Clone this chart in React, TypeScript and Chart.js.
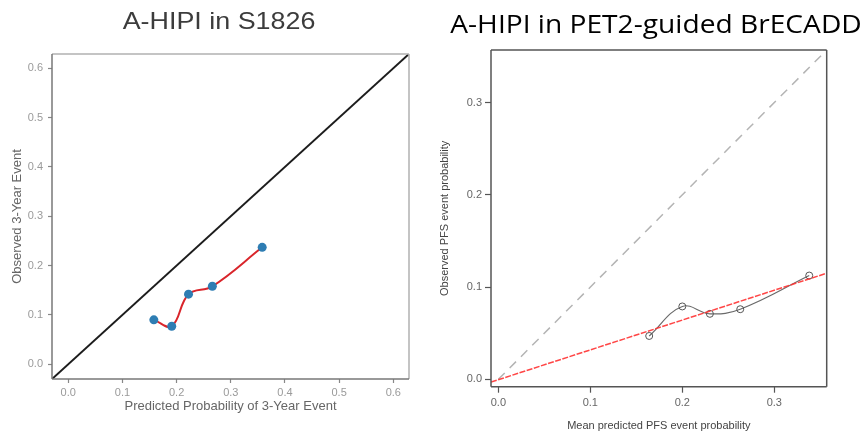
import React, { useEffect, useRef } from "react";
import { Chart, registerables } from "chart.js";
Chart.register(...registerables);

// ---------- Left panel: A-HIPI in S1826 ----------
const LEFT_TITLE = "A-HIPI in S1826";
const LEFT_PRED = [0.158, 0.191, 0.222, 0.266, 0.358];
const LEFT_OBS = [0.09, 0.077, 0.142, 0.158, 0.237];
const LEFT_TICKS = [0, 0.1, 0.2, 0.3, 0.4, 0.5, 0.6];
const LEFT_MIN = -0.03;
const LEFT_MAX = 0.629;
const LEFT_IDENT = [-0.03, 0.629];

// ---------- Right panel: A-HIPI in PET2-guided BrECADD ----------
const RIGHT_TITLE = "A-HIPI in PET2-guided BrECADD";
const RIGHT_PRED = [0.164, 0.2, 0.23, 0.263, 0.338];
const RIGHT_OBS = [0.047, 0.079, 0.071, 0.076, 0.1125];
const RIGHT_TICKS = [0, 0.1, 0.2, 0.3];
const RIGHT_MIN = -0.008;
const RIGHT_MAX = 0.357;
const RIGHT_IDENT = [0, 0.357];
const RIGHT_FIT_X = [-0.008, 0.357];
const RIGHT_FIT_Y = [-0.003, 0.115];

const pts = (xs: number[], ys: number[]) => xs.map((x, i) => ({ x, y: ys[i] }));

const boxPlugin = (colors: { left: string; bottom: string; top: string; right: string }, width: number) => ({
  id: "boxFrame",
  afterDatasetsDraw(chart: any) {
    const { ctx, chartArea: a } = chart;
    ctx.save();
    ctx.lineWidth = width;
    const seg = (x1: number, y1: number, x2: number, y2: number, c: string) => {
      ctx.strokeStyle = c;
      ctx.beginPath();
      ctx.moveTo(x1, y1);
      ctx.lineTo(x2, y2);
      ctx.stroke();
    };
    seg(a.left, a.top, a.right, a.top, colors.top);
    seg(a.right, a.top, a.right, a.bottom, colors.right);
    seg(a.left, a.top, a.left, a.bottom, colors.left);
    seg(a.left, a.bottom, a.right, a.bottom, colors.bottom);
    ctx.restore();
  },
});

function axis(opts: any) {
  const { min, max, ticks, size, tickLength, tickColor, pad, labelColor, labelSize, title, titleColor, titleSize, horizontal } = opts;
  return {
    type: "linear",
    min,
    max,
    afterBuildTicks: (s: any) => {
      s.ticks = ticks.map((v: number) => ({ value: v }));
    },
    afterFit: (s: any) => {
      if (horizontal) s.height = size;
      else s.width = size;
    },
    grid: { display: true, drawOnChartArea: false, drawTicks: true, tickLength, tickColor, tickWidth: 1.2 },
    border: { display: false },
    ticks: {
      padding: pad,
      color: labelColor,
      autoSkip: false,
      maxRotation: 0,
      font: { family: "Liberation Sans", size: labelSize },
      callback: (v: any) => Number(v).toFixed(1),
    },
    title: {
      display: true,
      text: title,
      color: titleColor,
      padding: 0,
      font: { family: "Liberation Sans", size: titleSize },
    },
  };
}

export default function App() {
  const leftRef = useRef<HTMLCanvasElement>(null);
  const rightRef = useRef<HTMLCanvasElement>(null);

  useEffect(() => {
    const left = new Chart(leftRef.current!, {
      type: "scatter",
      data: {
        datasets: [
          {
            data: pts(LEFT_PRED, LEFT_OBS),
            showLine: true,
            borderColor: "#d9252b",
            borderWidth: 2,
            tension: 0.4,
            pointRadius: 4.5,
            pointBackgroundColor: "#2e7db3",
            pointBorderWidth: 0,
          },
          {
            data: pts(LEFT_IDENT, LEFT_IDENT),
            showLine: true,
            borderColor: "#1c1c1c",
            borderWidth: 2,
            pointRadius: 0,
          },
        ],
      } as any,
      options: {
        animation: false,
        responsive: false,
        events: [],
        layout: { padding: { left: 10, top: 54, right: 21, bottom: 19 } },
        plugins: { legend: { display: false }, tooltip: { enabled: false } },
        scales: {
          x: axis({
            min: LEFT_MIN, max: LEFT_MAX, ticks: LEFT_TICKS, size: 35, tickLength: 4, tickColor: "#888",
            pad: 3, labelColor: "#9a9a9a", labelSize: 11, title: "Predicted Probability of 3-Year Event",
            titleColor: "#666", titleSize: 13, horizontal: true,
          }),
          y: axis({
            min: LEFT_MIN, max: LEFT_MAX, ticks: LEFT_TICKS, size: 42, tickLength: 4, tickColor: "#888",
            pad: 5, labelColor: "#9a9a9a", labelSize: 11, title: "Observed 3-Year Event",
            titleColor: "#666", titleSize: 13, horizontal: false,
          }),
        },
      } as any,
      plugins: [boxPlugin({ left: "#777", bottom: "#777", top: "#b0b0b0", right: "#b0b0b0" }, 1.5)],
    });

    const right = new Chart(rightRef.current!, {
      type: "scatter",
      data: {
        datasets: [
          {
            data: pts(RIGHT_FIT_X, RIGHT_FIT_Y),
            showLine: true,
            borderColor: "rgba(255,50,50,0.9)",
            borderWidth: 1.5,
            borderDash: [6, 1.5],
            pointRadius: 0,
          },
          {
            data: pts(RIGHT_PRED, RIGHT_OBS),
            showLine: true,
            borderColor: "#6a6a6a",
            borderWidth: 1.2,
            tension: 0.4,
            pointRadius: 3.5,
            pointBackgroundColor: "rgba(255,255,255,0)",
            pointBorderColor: "#555",
            pointBorderWidth: 1,
          },
          {
            data: pts(RIGHT_IDENT, RIGHT_IDENT),
            showLine: true,
            borderColor: "#b4b4b4",
            borderWidth: 1.5,
            borderDash: [9, 7],
            pointRadius: 0,
          },
        ],
      } as any,
      options: {
        animation: false,
        responsive: false,
        events: [],
        layout: { padding: { left: 8.4, top: 50, right: 35.3, bottom: 0 } },
        plugins: { legend: { display: false }, tooltip: { enabled: false } },
        scales: {
          x: axis({
            min: RIGHT_MIN, max: RIGHT_MAX, ticks: RIGHT_TICKS, size: 46.3, tickLength: 6, tickColor: "#555",
            pad: 4, labelColor: "#666", labelSize: 11, title: "Mean predicted PFS event probability",
            titleColor: "#444", titleSize: 11, horizontal: true,
          }),
          y: axis({
            min: RIGHT_MIN, max: RIGHT_MAX, ticks: RIGHT_TICKS, size: 52.6, tickLength: 6, tickColor: "#555",
            pad: 3, labelColor: "#666", labelSize: 11, title: "Observed PFS event probability",
            titleColor: "#444", titleSize: 11, horizontal: false,
          }),
        },
      } as any,
      plugins: [boxPlugin({ left: "#555", bottom: "#555", top: "#555", right: "#555" }, 1.5)],
    });

    return () => {
      left.destroy();
      right.destroy();
    };
  }, []);

  return (
    <div style={{ position: "absolute", left: 0, top: 0, width: 862, height: 433, overflow: "hidden", background: "#fff" }}>
      <canvas ref={leftRef} width={430} height={433} style={{ position: "absolute", left: 0, top: 0 }} />
      <canvas ref={rightRef} width={432} height={433} style={{ position: "absolute", left: 430, top: 0 }} />
      <div
        style={{
          position: "absolute", left: 218.8, top: 9, transform: "translateX(-50%) scaleX(1.12)",
          fontFamily: "Liberation Sans", fontSize: 24, lineHeight: "24px", color: "#3c3c3c", whiteSpace: "nowrap",
        }}
      >
        {LEFT_TITLE}
      </div>
      <div
        style={{
          position: "absolute", left: 655.5, top: 10.6, transform: "translateX(-50%) scaleX(1.1)",
          fontFamily: "Open Sans", fontSize: 25.6, lineHeight: "25.6px", color: "#000", whiteSpace: "nowrap",
        }}
      >
        {RIGHT_TITLE}
      </div>
    </div>
  );
}
